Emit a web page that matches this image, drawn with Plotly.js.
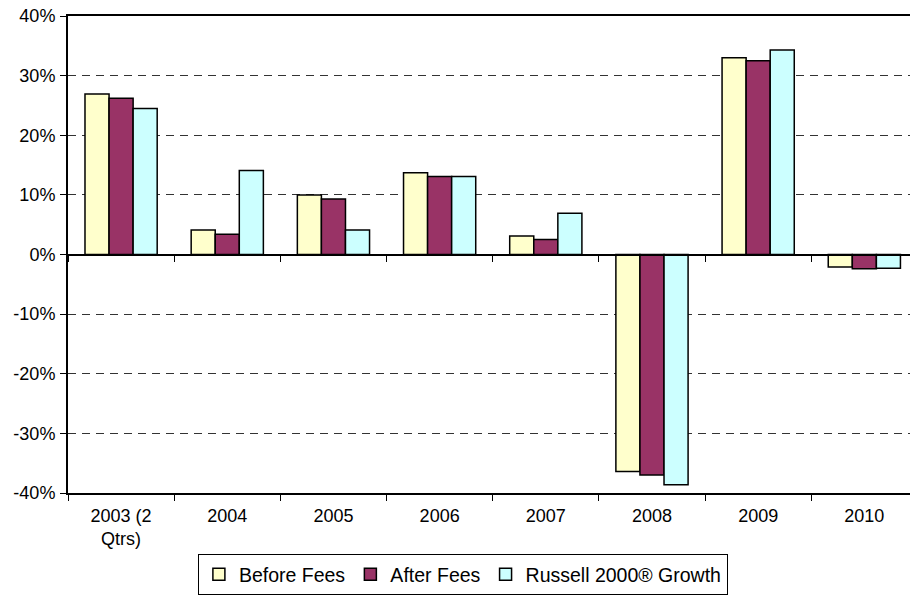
<!DOCTYPE html>
<html>
<head>
<meta charset="utf-8">
<script src="https://cdn.plot.ly/plotly-3.0.1.min.js"></script>
<style>
html, body { margin: 0; padding: 0; overflow: hidden; background: #fff; }
#chart { width: 910px; height: 595px; }
</style>
</head>
<body>
<div id="chart"></div>
<script>
const categories = ['2003 (2 Qtrs)', '2004', '2005', '2006', '2007', '2008', '2009', '2010'];
const categoryLabels = ['2003 (2<br>Qtrs)', '2004', '2005', '2006', '2007', '2008', '2009', '2010'];
const beforeFees = [26.9, 4.1, 10.0, 13.7, 3.1, -36.4, 33.0, -2.1];
const afterFees = [26.2, 3.4, 9.3, 13.1, 2.5, -37.0, 32.5, -2.4];
const russell2000Growth = [24.5, 14.1, 4.1, 13.1, 6.9, -38.6, 34.3, -2.3];
const yTickValues = [-40, -30, -20, -10, 0, 10, 20, 30, 40];
const yTickLabels = ['-40%', '-30%', '-20%', '-10%', '0%', '10%', '20%', '30%', '40%'];

const FONT = 'Liberation Sans, Arial, sans-serif';
const outline = { color: '#000000', width: 1.5 };

const traces = [
  { type: 'bar', name: 'Before Fees', x: categories, y: beforeFees,
    marker: { color: '#FFFFCC', line: outline }, hoverinfo: 'x+y' },
  { type: 'bar', name: 'After Fees', x: categories, y: afterFees,
    marker: { color: '#993366', line: outline }, hoverinfo: 'x+y' },
  { type: 'bar', name: 'Russell 2000® Growth', x: categories, y: russell2000Growth,
    marker: { color: '#CCFFFF', line: outline }, hoverinfo: 'x+y' },
  // helper trace so the category axis drawn along the 0% line exists
  { type: 'scatter', mode: 'markers', x: categories, y: categories.map(() => 0),
    xaxis: 'x2', yaxis: 'y', marker: { opacity: 0, size: 1 },
    showlegend: false, hoverinfo: 'skip' }
];

const xRange = [-0.5, 7.43];

const layout = {
  width: 910, height: 595,
  margin: { l: 68, r: 0, t: 16, b: 100, pad: 0 },
  paper_bgcolor: '#ffffff', plot_bgcolor: '#ffffff',
  font: { family: FONT, size: 18, color: '#000000' },
  barmode: 'group', bargap: 0.32, bargroupgap: 0,
  showlegend: true,
  legend: {
    orientation: 'h', x: 0.469, xanchor: 'center', y: -0.128, yanchor: 'top',
    bordercolor: '#000000', borderwidth: 1, bgcolor: '#ffffff',
    font: { family: FONT, size: 19.5, color: '#000000' },
    itemwidth: 30, traceorder: 'normal'
  },
  xaxis: {
    type: 'category', range: xRange, categoryorder: 'array', categoryarray: categories,
    tickvals: categories, ticktext: categoryLabels,
    tickson: 'boundaries', ticks: 'outside', ticklen: 6, tickwidth: 1, tickcolor: '#000000',
    ticklabelstandoff: 5,
    showline: true, linecolor: '#000000', linewidth: 2, mirror: true,
    showgrid: false, zeroline: false, fixedrange: true,
    tickfont: { family: FONT, size: 18, color: '#000000' }
  },
  xaxis2: {
    type: 'category', range: xRange, categoryorder: 'array', categoryarray: categories,
    overlaying: 'x', anchor: 'free', position: 0.5, side: 'bottom',
    tickson: 'boundaries', ticks: 'outside', ticklen: 6, tickwidth: 1, tickcolor: '#000000',
    showticklabels: false, showline: true, linecolor: '#000000', linewidth: 1.5,
    showgrid: false, zeroline: false, fixedrange: true
  },
  yaxis: {
    range: [-40, 40], tickvals: yTickValues, ticktext: yTickLabels,
    ticks: 'outside', ticklen: 6, tickwidth: 1, tickcolor: '#000000',
    ticklabelstandoff: 1,
    showline: true, linecolor: '#000000', linewidth: 2,
    showgrid: true, gridcolor: '#333333', gridwidth: 1, griddash: '8px,6px',
    zeroline: true, zerolinecolor: '#000000', zerolinewidth: 1.5,
    fixedrange: true,
    tickfont: { family: FONT, size: 18, color: '#000000' }
  }
};

Plotly.newPlot('chart', traces, layout, { displayModeBar: false, staticPlot: true });
</script>
</body>
</html>
